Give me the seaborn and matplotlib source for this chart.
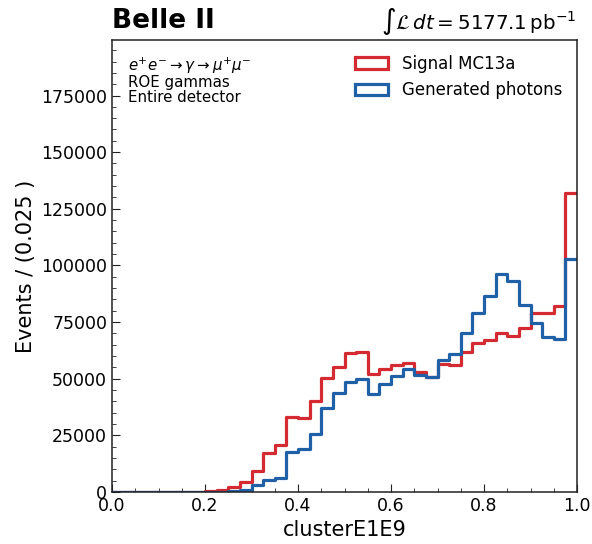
import numpy as np
import pandas as pd
import matplotlib
matplotlib.use("Agg")
import matplotlib.pyplot as plt
from matplotlib.patches import Patch
from matplotlib.ticker import MultipleLocator
import seaborn as sns

bin_edges = np.round(np.linspace(0.0, 1.0, 41), 4)
signal_counts = [0, 0, 0, 0, 0, 0, 0, 0, 300, 700, 2100, 4400, 9300, 17100, 20700,
                 33200, 32800, 40100, 50400, 55000, 61300, 61600, 52000, 54500, 56000,
                 57000, 52800, 50600, 56300, 55900, 61700, 65800, 67000, 70200, 68800,
                 72200, 79000, 79000, 82000, 132000]
photon_counts = [0, 0, 0, 0, 0, 0, 0, 0, 0, 200, 400, 800, 3100, 5200, 6300,
                 17500, 19000, 25600, 37000, 43800, 48400, 49700, 43100, 47500, 51200,
                 54100, 51600, 50900, 58200, 60900, 70000, 79200, 86400, 96300, 93200,
                 82500, 74500, 68200, 67600, 102900]
series_names = ["Signal MC13a", "Generated photons"]
series_colors = ["#d42a31", "#1f60a6"]

centers = (bin_edges[:-1] + bin_edges[1:]) / 2
df = pd.DataFrame({
    "x": np.concatenate([centers, centers]),
    "w": np.concatenate([signal_counts, photon_counts]).astype(float),
    "series": [series_names[0]] * 40 + [series_names[1]] * 40,
})

sns.set_style("ticks")
plt.rcParams["font.family"] = ["DejaVu Sans"]
plt.rcParams["mathtext.fontset"] = "dejavusans"
plt.rcParams["text.color"] = "black"
plt.rcParams["axes.labelcolor"] = "black"
plt.rcParams["xtick.color"] = "black"
plt.rcParams["ytick.color"] = "black"

fig = plt.figure(figsize=(5.92, 5.44), dpi=100)
ax = fig.add_axes([112 / 592, 1 - 492 / 544, 465 / 592, 452 / 544])

for name, col in zip(series_names, series_colors):
    sub = df[df["series"] == name]
    sns.histplot(data=sub, x="x", weights="w", binwidth=0.025, binrange=(0.0, 1.0),
                 element="step", fill=False, color=col, linewidth=2.3, ax=ax)

ax.set_xlim(0, 1.0)
ax.set_ylim(0, 199500)
ax.xaxis.set_major_locator(MultipleLocator(0.2))
ax.xaxis.set_minor_locator(MultipleLocator(0.05))
ax.yaxis.set_major_locator(MultipleLocator(25000))
ax.yaxis.set_minor_locator(MultipleLocator(5000))
ax.tick_params(which="both", direction="in", labelsize=12.5, color="#222222",
               labelcolor="black")
ax.tick_params(which="major", length=6)
ax.tick_params(which="minor", length=3)
for s in ax.spines.values():
    s.set_color("#222222")
    s.set_linewidth(1.1)

ax.set_xlabel("clusterE1E9", fontsize=15, color="black")
ax.set_ylabel("Events / (0.025 )", fontsize=15, color="black")

fig.text(112 / 592, 1 - 21 / 544, "Belle II", fontsize=19, fontweight="bold",
         ha="left", va="center", color="black")
fig.text(577 / 592, 1 - 21 / 544, r"$\int\mathcal{L}\,dt = 5177.1\,\mathrm{pb}^{-1}$",
         fontsize=14.3, ha="right", va="center", color="black")

ax.text(0.035, 0.965, r"$e^{+}e^{-}\rightarrow\gamma\rightarrow\mu^{+}\mu^{-}$",
        transform=ax.transAxes, fontsize=10.8, va="top", ha="left", color="black")
ax.text(0.035, 0.922, "ROE gammas\nEntire detector", transform=ax.transAxes,
        fontsize=10.8, va="top", ha="left", linespacing=1.0, color="black")

handles = [Patch(facecolor="none", edgecolor=c, linewidth=2.3, label=n)
           for n, c in zip(series_names, series_colors)]
ax.legend(handles=handles, loc="upper right", frameon=False, fontsize=12,
          bbox_to_anchor=(1.0, 1.0), handlelength=2.0, labelcolor="black")

fig.savefig("out.png", dpi=100)
